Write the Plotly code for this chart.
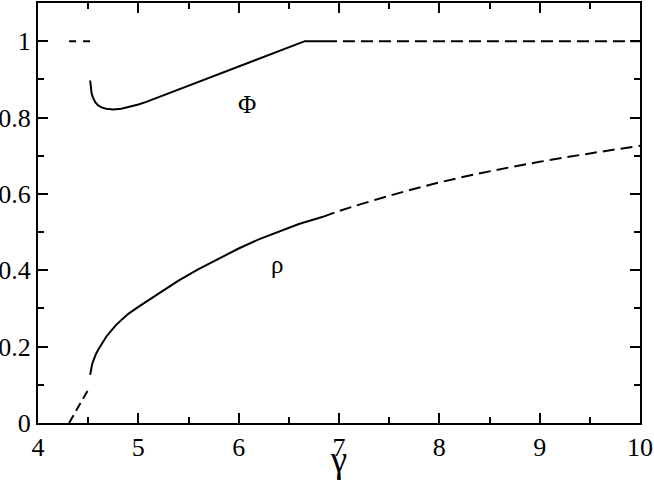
import plotly.graph_objects as go

# Phi branch (solid), dashed continuation at 1
phi_x = [4.52, 4.525, 4.535, 4.548, 4.57, 4.60, 4.64, 4.68, 4.75, 4.83, 4.91, 5.0,
         5.08, 5.25, 5.41, 5.6, 5.8, 6.0, 6.2, 6.4, 6.66, 6.86]
phi_y = [0.897, 0.878, 0.862, 0.852, 0.840, 0.832, 0.826, 0.823, 0.821, 0.823, 0.828, 0.834,
         0.841, 0.858, 0.876, 0.893, 0.914, 0.935, 0.955, 0.974, 1.0, 1.0]
phi_left_x = [4.31, 4.52]
phi_left_y = [1.0, 1.0]
phi_right_x = [6.86, 10.0]
phi_right_y = [1.0, 1.0]

# rho branch
rho_x = [4.52, 4.525, 4.53, 4.538, 4.548, 4.56, 4.575, 4.6, 4.64, 4.68, 4.73, 4.78, 4.84,
         4.9, 5.0, 5.1, 5.25, 5.4, 5.6, 5.8, 6.0, 6.2, 6.4, 6.6, 6.84]
rho_y = [0.126, 0.136, 0.143, 0.152, 0.161, 0.170, 0.179, 0.192, 0.210, 0.226, 0.242,
         0.257, 0.272, 0.286, 0.304, 0.321, 0.348, 0.373, 0.403, 0.431, 0.457, 0.481,
         0.502, 0.521, 0.540]
rho_left_x = [4.31, 4.495]
rho_left_y = [0.0, 0.085]
rho_right_x = [6.84, 7.0, 7.5, 8.0, 8.5, 9.0, 9.5, 10.0]
rho_right_y = [0.540, 0.555, 0.595, 0.630, 0.659, 0.684, 0.706, 0.726]

x_ticks = [4, 5, 6, 7, 8, 9, 10]
y_ticks = [0, 0.2, 0.4, 0.6, 0.8, 1.0]
y_labels = ["0", "0.2", "0.4", "0.6", "0.8", "1"]

FONT = "Times New Roman, Liberation Serif, DejaVu Serif, serif"
line_solid = dict(color="black", width=2)

fig = go.Figure()
fig.add_trace(go.Scatter(x=phi_x, y=phi_y, mode="lines", line=line_solid))
fig.add_trace(go.Scatter(x=phi_left_x, y=phi_left_y, mode="lines",
                         line=dict(color="black", width=2, dash="7px,7px")))
fig.add_trace(go.Scatter(x=phi_right_x, y=phi_right_y, mode="lines",
                         line=dict(color="black", width=2, dash="12px,6px")))
fig.add_trace(go.Scatter(x=rho_x, y=rho_y, mode="lines", line=line_solid))
fig.add_trace(go.Scatter(x=rho_left_x, y=rho_left_y, mode="lines",
                         line=dict(color="black", width=2, dash="9px,5px")))
fig.add_trace(go.Scatter(x=rho_right_x, y=rho_right_y, mode="lines", line_shape="spline",
                         line=dict(color="black", width=2, dash="12px,6px")))
# invisible trace so the mirrored (top/right) tick axes get drawn
fig.add_trace(go.Scatter(x=[4], y=[0], xaxis="x2", yaxis="y2", mode="markers",
                         marker=dict(opacity=0), hoverinfo="skip"))

fig.add_annotation(x=6.08, y=0.835, text="Φ", showarrow=False,
                   font=dict(family=FONT, size=25, color="black"))
fig.add_annotation(x=6.38, y=0.414, text="ρ", showarrow=False,
                   font=dict(family=FONT, size=25, color="black"))

axis_common = dict(
    showline=True, linecolor="black", linewidth=2,
    ticks="inside", ticklen=10, tickwidth=2, tickcolor="black",
    showgrid=False, zeroline=False, automargin=False,
    tickfont=dict(family=FONT, size=26, color="black"),
)
x_minor = dict(ticks="inside", ticklen=6, tickwidth=2, dtick=0.5,
               tickcolor="black", showgrid=False)
y_minor = dict(ticks="inside", ticklen=6, tickwidth=2, dtick=0.1,
               tickcolor="black", showgrid=False)

fig.update_layout(
    width=654, height=480,
    margin=dict(l=38, r=14, t=3, b=57),
    paper_bgcolor="white", plot_bgcolor="white",
    font=dict(family=FONT, color="black"),
    showlegend=False,
    xaxis=dict(**axis_common, range=[4, 10], tickvals=x_ticks, minor=x_minor,
               title=dict(text="γ", font=dict(family=FONT, size=37, color="black"),
                          standoff=0)),
    yaxis=dict(**axis_common, range=[0, 1.1], tickvals=y_ticks, ticktext=y_labels,
               minor=y_minor),
    xaxis2=dict(**axis_common, range=[4, 10], tickvals=x_ticks, minor=x_minor,
                overlaying="x", side="top", showticklabels=False),
    yaxis2=dict(**axis_common, range=[0, 1.1], tickvals=y_ticks, minor=y_minor,
                overlaying="y", side="right", showticklabels=False),
)

fig.write_html("out.html", config={"displayModeBar": False},
               post_script="document.body.style.margin = '0';")
